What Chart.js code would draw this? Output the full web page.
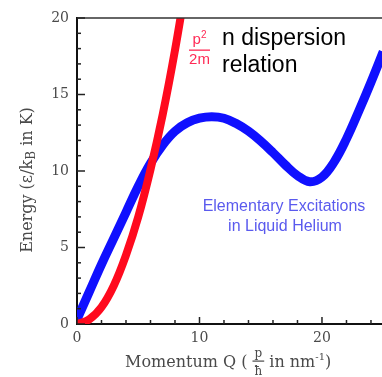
<!DOCTYPE html>
<html>
<head>
<meta charset="utf-8">
<script src="https://cdn.jsdelivr.net/npm/chart.js@4.4.1/dist/chart.umd.min.js"></script>
<style>
  html, body { margin: 0; padding: 0; background: #ffffff; }
  #wrap { width: 382px; height: 377px; position: relative; }
  canvas { display: block; }
</style>
</head>
<body>
<div id="wrap"><canvas id="c" width="382" height="377"></canvas></div>
<script>
// ---- data ----
const momentumQ = [0,1,2,3,4,5,6,7,8,9,10,11,12,13,14,15,16,17,18,19,20,21,22,23,24,25];
const excitationEnergy = [0.3,2.1,3.9,5.6,7.3,9.0,10.5,11.7,12.6,13.15,13.45,13.55,13.45,13.1,12.6,11.95,11.2,10.4,9.7,9.3,9.6,10.6,12.1,13.9,15.8,17.8];
const freeQ = [0,1,2,3,4,5,6,7,8,9];
const freeEnergy = [0,0.3,1.1,2.5,4.5,7.0,10.1,13.7,17.9,22.7];
const xTickLabels = [0,10,20];
const yTickLabels = [0,5,10,15,20];
const xMinorTicks = [2,4,6,8,12,14,16,18,22,24];
const yMinorTicks = [1,2,3,4,6,7,8,9,11,12,13,14,16,17,18,19];

const TEXT_GREY = '#4a4a4a';

const decorPlugin = {
  id: 'decor',
  afterDatasetsDraw(chart) {
    const ctx = chart.ctx;
    const xs = chart.scales.x, ys = chart.scales.y;
    const a = chart.chartArea;
    ctx.save();
    ctx.strokeStyle = '#333';
    ctx.lineWidth = 1.5;
    ctx.beginPath();
    ctx.moveTo(a.left, a.top);
    ctx.lineTo(a.right, a.top);
    ctx.stroke();
    ctx.strokeStyle = '#222';
    ctx.lineWidth = 1.5;
    const drawX = (v, len) => {
      const px = xs.getPixelForValue(v);
      ctx.beginPath(); ctx.moveTo(px, a.bottom); ctx.lineTo(px, a.bottom - len); ctx.stroke();
    };
    const drawY = (v, len) => {
      const py = ys.getPixelForValue(v);
      ctx.beginPath(); ctx.moveTo(a.left, py); ctx.lineTo(a.left + len, py); ctx.stroke();
    };
    xTickLabels.forEach(v => drawX(v, 7));
    xMinorTicks.forEach(v => drawX(v, 4));
    yTickLabels.forEach(v => drawY(v, 8));
    yMinorTicks.forEach(v => drawY(v, 4));
    ctx.restore();
  },
  afterDraw(chart) {
    const ctx = chart.ctx;
    ctx.save();
    // ---- X axis title ----
    ctx.fillStyle = TEXT_GREY;
    ctx.textBaseline = 'alphabetic';
    ctx.textAlign = 'left';
    const f16 = '16px "DejaVu Serif"';
    const f12 = '12px "DejaVu Serif"';
    const f10 = '10px "DejaVu Serif"';
    let x = 125, base = 367;
    ctx.font = f16;
    const s1 = 'Momentum Q ( ';
    ctx.fillText(s1, x, base); x += ctx.measureText(s1).width;
    ctx.font = f12;
    const wp = ctx.measureText('p').width, wh = ctx.measureText('ħ').width;
    const fw = Math.max(wp, wh) + 4;
    ctx.textAlign = 'center';
    ctx.fillText('p', x + fw / 2, 357);
    ctx.fillText('ħ', x + fw / 2, 375);
    ctx.fillRect(x, 360.5, fw, 1.2);
    ctx.textAlign = 'left';
    x += fw;
    ctx.font = f16;
    const s2 = ' in nm';
    ctx.fillText(s2, x, base); x += ctx.measureText(s2).width;
    ctx.font = f10;
    ctx.fillText('-1', x, base - 7); x += ctx.measureText('-1').width;
    ctx.font = f16;
    ctx.fillText(')', x, base);

    // ---- Y axis title ----
    ctx.save();
    ctx.translate(26, 180);
    ctx.rotate(-Math.PI / 2);
    ctx.font = f16;
    const p1 = 'Energy (ε/k', p2 = 'B', p3 = ' in K)';
    const w1 = ctx.measureText(p1).width, w3 = ctx.measureText(p3).width;
    ctx.font = f12;
    const w2 = ctx.measureText(p2).width;
    let tx = -(w1 + w2 + w3) / 2;
    ctx.font = f16;
    ctx.fillText(p1, tx, 6); tx += w1;
    ctx.font = f12;
    ctx.fillText(p2, tx, 9); tx += w2;
    ctx.font = f16;
    ctx.fillText(p3, tx, 6);
    ctx.restore();

    // ---- red p^2/2m label ----
    ctx.fillStyle = '#ff2a55';
    ctx.font = '15px "Liberation Sans"';
    ctx.textAlign = 'left';
    const wpp = ctx.measureText('p').width;
    ctx.font = '10px "Liberation Sans"';
    const w22 = ctx.measureText('2').width;
    let px0 = 199.5 - (wpp + w22) / 2;
    ctx.font = '15px "Liberation Sans"';
    ctx.fillText('p', px0, 44);
    ctx.font = '10px "Liberation Sans"';
    ctx.fillText('2', px0 + wpp, 38);
    ctx.fillRect(189, 49.5, 21, 1.3);
    ctx.font = '15px "Liberation Sans"';
    ctx.textAlign = 'center';
    ctx.fillText('2m', 199.5, 64);

    // ---- black text ----
    ctx.fillStyle = '#000';
    ctx.textAlign = 'left';
    ctx.font = '23px "Liberation Sans"';
    ctx.fillText('n dispersion', 222, 45);
    ctx.fillText('relation', 222, 72);

    // ---- blue caption ----
    ctx.fillStyle = '#5a5aee';
    ctx.font = '16px "Liberation Sans"';
    ctx.textAlign = 'center';
    ctx.fillText('Elementary Excitations', 284, 211);
    ctx.fillText('in Liquid Helium', 285, 231);
    ctx.restore();
  }
};

const toPoints = (xsArr, ysArr) => xsArr.map((q, i) => ({ x: q, y: ysArr[i] }));

new Chart(document.getElementById('c'), {
  type: 'line',
  data: {
    datasets: [
      {
        label: 'p²/2m',
        data: toPoints(freeQ, freeEnergy),
        borderColor: '#ff0a1e',
        borderWidth: 8,
        pointRadius: 0,
        tension: 0.4,
        fill: false,
        clip: 0,
        order: 0
      },
      {
        label: 'Elementary Excitations in Liquid Helium',
        data: toPoints(momentumQ, excitationEnergy),
        borderColor: '#1010ff',
        borderWidth: 9,
        pointRadius: 0,
        tension: 0.4,
        fill: false,
        clip: 0,
        order: 1
      }
    ]
  },
  options: {
    responsive: false,
    devicePixelRatio: 1,
    animation: false,
    events: [],
    layout: { padding: { top: 18, right: 0, left: 0, bottom: 0 } },
    plugins: { legend: { display: false }, tooltip: { enabled: false }, title: { display: false } },
    scales: {
      x: {
        type: 'linear',
        min: 0,
        max: 24.9,
        afterBuildTicks: s => { s.ticks = xTickLabels.map(v => ({ value: v })); },
        afterFit: s => { s.height = 53; },
        ticks: { includeBounds: false, padding: 6, color: TEXT_GREY, font: { family: 'DejaVu Serif', size: 14 }, maxRotation: 0 },
        grid: { display: true, drawOnChartArea: false, drawTicks: false },
        border: { display: true, color: '#111', width: 2 }
      },
      y: {
        type: 'linear',
        min: 0,
        max: 20,
        afterBuildTicks: s => { s.ticks = yTickLabels.map(v => ({ value: v })); },
        afterFit: s => { s.width = 77; },
        ticks: { includeBounds: false, padding: 8, color: TEXT_GREY, font: { family: 'DejaVu Serif', size: 14 } },
        grid: { display: true, drawOnChartArea: false, drawTicks: false },
        border: { display: true, color: '#111', width: 2 }
      }
    }
  },
  plugins: [decorPlugin]
});
</script>
</body>
</html>
